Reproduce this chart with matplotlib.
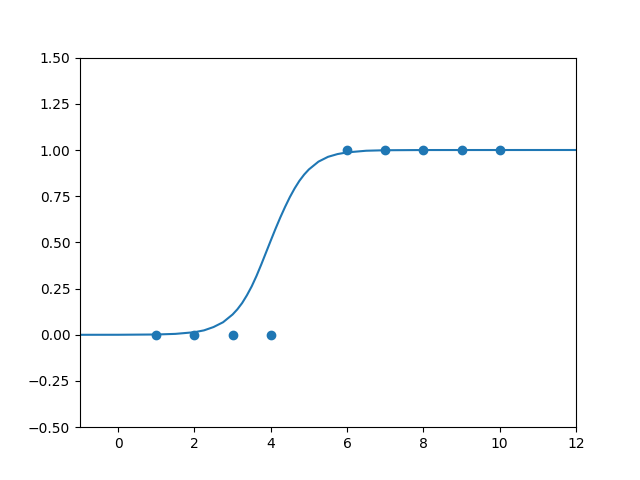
import matplotlib
matplotlib.use("Agg")
import matplotlib.pyplot as plt

# observed samples
x_pts = [1, 2, 3, 4, 6, 7, 8, 9, 10]
y_pts = [0, 0, 0, 0, 1, 1, 1, 1, 1]

# fitted curve, values
x_curve = [-1, 0, 1, 1.5, 2, 2.25, 2.5, 2.75, 3, 3.125, 3.25, 3.375, 3.5,
           3.625, 3.75, 3.875, 4, 4.125, 4.25, 4.375, 4.5, 4.625, 4.75,
           4.875, 5, 5.25, 5.5, 5.75, 6, 6.5, 7, 8, 12]
y_curve = [0.0, 0.0002, 0.0017, 0.005, 0.014, 0.024, 0.042, 0.068, 0.110,
           0.138, 0.172, 0.214, 0.262, 0.318, 0.380, 0.445, 0.510, 0.574,
           0.635, 0.692, 0.745, 0.792, 0.833, 0.867, 0.895, 0.937, 0.963,
           0.978, 0.987, 0.996, 0.9987, 0.9998, 1.0]

fig, ax = plt.subplots(figsize=(6.4, 4.8), dpi=100)
ax.scatter(x_pts, y_pts)
ax.plot(x_curve, y_curve)
ax.set_xlim(-1, 12)
ax.set_ylim(-0.5, 1.5)
fig.savefig("out.png")
